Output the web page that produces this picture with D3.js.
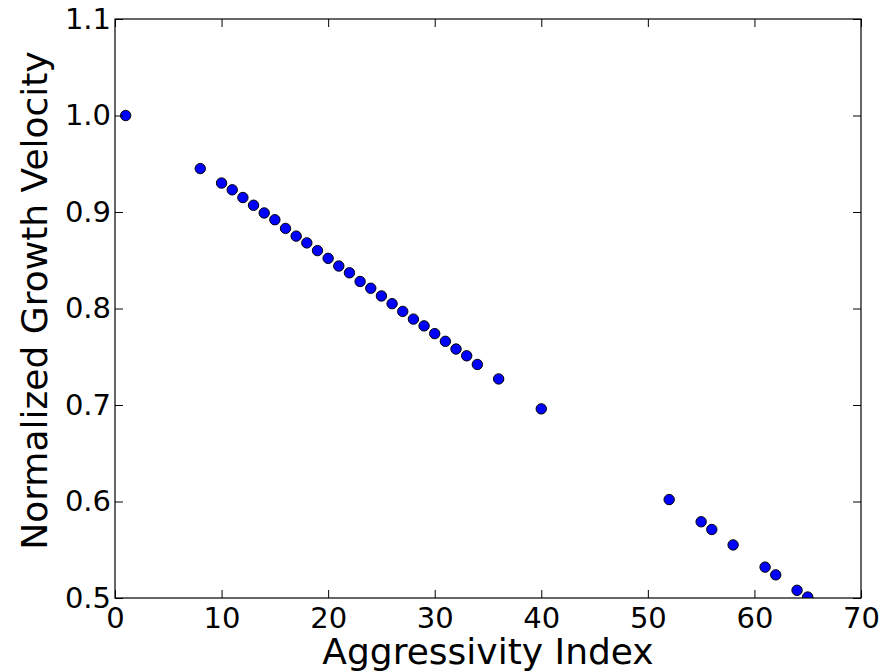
<!DOCTYPE html>
<html>
<head>
<meta charset="utf-8">
<script src="https://cdn.jsdelivr.net/npm/d3@7"></script>
<style>
body { margin: 0; background: #fff; }
svg { display: block; }
text { font-family: "DejaVu Sans", sans-serif; fill: #000; }
</style>
</head>
<body>
<svg id="chart" width="896" height="672"></svg>
<script>
const xValues = [1, 8, 10, 11, 12, 13, 14, 15, 16, 17, 18, 19, 20, 21, 22, 23, 24, 25, 26, 27, 28, 29, 30, 31, 32, 33, 34, 36, 40, 52, 55, 56, 58, 61, 62, 64, 65];
const yValues = [1.000, 0.945, 0.930, 0.923, 0.915, 0.907, 0.899, 0.892, 0.883, 0.875, 0.868, 0.860, 0.852, 0.844, 0.837, 0.828, 0.821, 0.813, 0.805, 0.797, 0.789, 0.782, 0.774, 0.766, 0.758, 0.751, 0.742, 0.727, 0.696, 0.602, 0.579, 0.571, 0.555, 0.532, 0.524, 0.508, 0.501];
const xTicks = [0, 10, 20, 30, 40, 50, 60, 70];
const yTicks = [0.5, 0.6, 0.7, 0.8, 0.9, 1.0, 1.1];
const xLabel = "Aggressivity Index";
const yLabel = "Normalized Growth Velocity";

(function () {
const svg = d3.select("#chart");
const mL = 115, mR = 861, mT = 19, mB = 598;
const x = d3.scaleLinear().domain([0, 70]).range([mL, mR]);
const y = d3.scaleLinear().domain([0.5, 1.1]).range([mB, mT]);

svg.append("defs").append("clipPath").attr("id", "clip")
  .append("rect").attr("x", mL).attr("y", mT).attr("width", mR - mL).attr("height", mB - mT);

const data = xValues.map((v, i) => ({x: v, y: yValues[i]}));
svg.append("g").attr("clip-path", "url(#clip)")
  .selectAll("circle").data(data).enter().append("circle")
  .attr("cx", d => x(d.x)).attr("cy", d => y(d.y)).attr("r", 5.2)
  .attr("fill", "#0000ff").attr("stroke", "#000").attr("stroke-width", 1);

const tickLen = 8;
const gx = svg.append("g").attr("transform", `translate(0,${mB})`)
  .call(d3.axisBottom(x).tickValues(xTicks).tickFormat(d3.format("d")).tickSizeInner(-tickLen).tickSizeOuter(0).tickPadding(9));
const gxt = svg.append("g").attr("transform", `translate(0,${mT})`)
  .call(d3.axisTop(x).tickValues(xTicks).tickFormat("").tickSizeInner(-tickLen).tickSizeOuter(0));
const gy = svg.append("g").attr("transform", `translate(${mL},0)`)
  .call(d3.axisLeft(y).tickValues(yTicks).tickFormat(d3.format(".1f")).tickSizeInner(-tickLen).tickSizeOuter(0).tickPadding(4));
const gyr = svg.append("g").attr("transform", `translate(${mR},0)`)
  .call(d3.axisRight(y).tickValues(yTicks).tickFormat("").tickSizeInner(-tickLen).tickSizeOuter(0));

[gx, gxt, gy, gyr].forEach(g => {
  g.selectAll(".domain").remove();
  g.selectAll(".tick line").attr("stroke", "#000").attr("stroke-width", 1);
});
gx.selectAll(".tick text").attr("font-size", 29).attr("font-family", "DejaVu Sans").attr("fill", "#000")
  .attr("dy", "0.71em");
gy.selectAll(".tick text").attr("font-size", 29).attr("font-family", "DejaVu Sans").attr("fill", "#000");

svg.append("rect").attr("x", mL).attr("y", mT).attr("width", mR - mL).attr("height", mB - mT)
  .attr("fill", "none").attr("stroke", "#000").attr("stroke-width", 1.2);

svg.append("text").attr("x", (mL + mR) / 2).attr("y", 664).attr("text-anchor", "middle")
  .attr("font-size", 36).text(xLabel);
svg.append("text").attr("transform", `translate(47,300.5) rotate(-90)`)
  .attr("text-anchor", "middle").attr("font-size", 36).text(yLabel);
})();
</script>
</body>
</html>
